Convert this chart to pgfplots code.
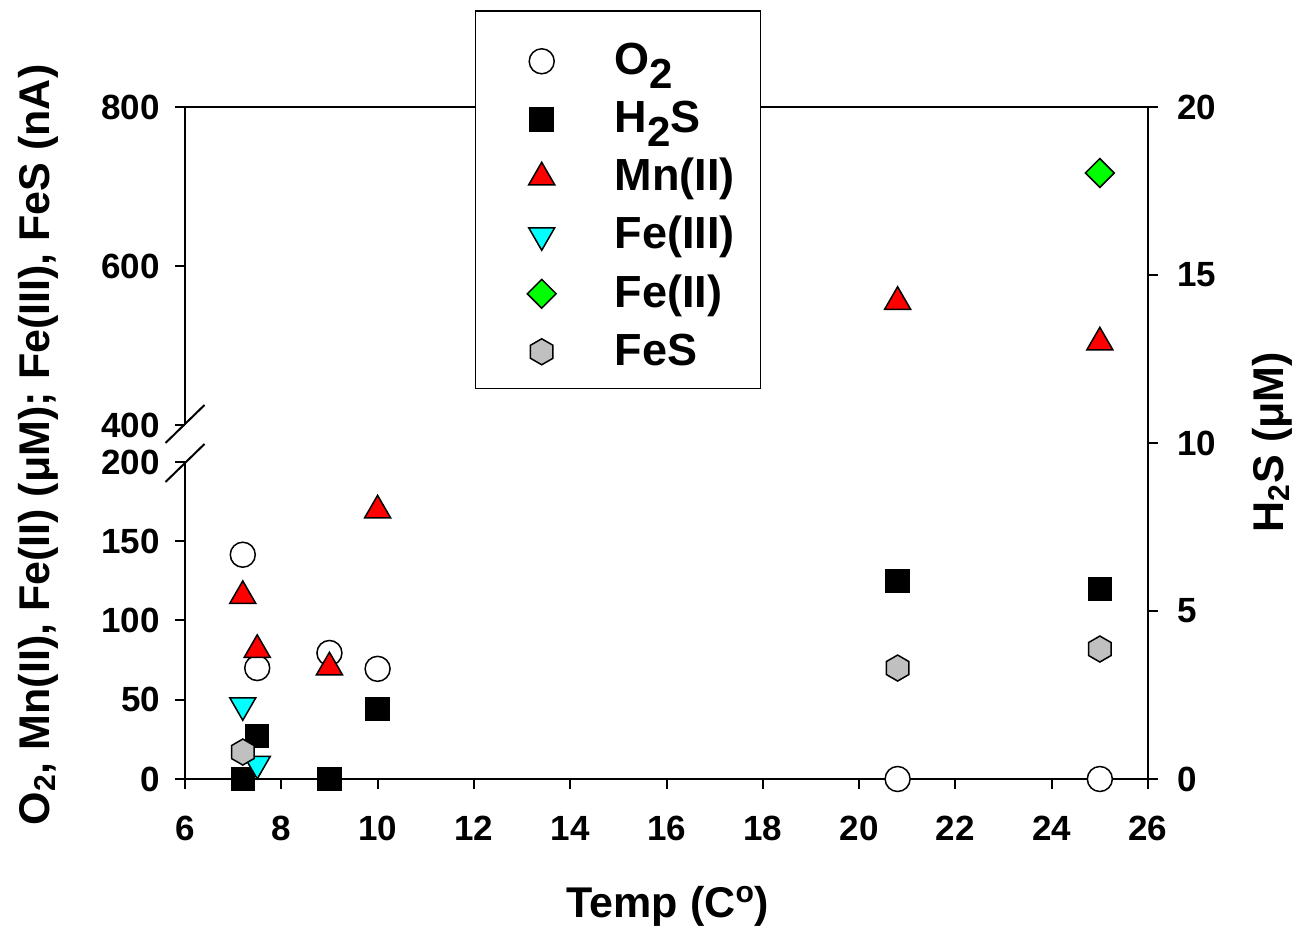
\documentclass[border=0pt]{standalone}
\usepackage{pgfplots}
\pgfplotsset{compat=1.18}
\usepackage{fontspec}
\setmainfont{Liberation Sans}
\definecolor{fesgray}{RGB}{192,192,192}
\definecolor{fecyan}{RGB}{0,255,255}
\definecolor{fegreen}{RGB}{0,255,0}
\definecolor{mnred}{RGB}{255,0,0}
\pgfdeclareplotmark{hexagon}{%
  \pgfpathmoveto{\pgfpointpolar{90}{\pgfplotmarksize}}%
  \pgfpathlineto{\pgfpointpolar{150}{\pgfplotmarksize}}%
  \pgfpathlineto{\pgfpointpolar{210}{\pgfplotmarksize}}%
  \pgfpathlineto{\pgfpointpolar{270}{\pgfplotmarksize}}%
  \pgfpathlineto{\pgfpointpolar{330}{\pgfplotmarksize}}%
  \pgfpathlineto{\pgfpointpolar{30}{\pgfplotmarksize}}%
  \pgfpathclose
  \pgfusepathqfillstroke}
\pgfplotsset{
  every axis/.append style={
    scale only axis, width=481.5pt, xmin=6, xmax=26,
    anchor=south west, clip=false,
    tick align=outside, major tick length=5pt,
    every tick/.style={black, line width=1pt},
    axis line style={-, line width=1pt},
    tick label style={font=\fontsize{17.5}{20}\selectfont\bfseries},
    /pgf/number format/assume math mode=true,
  },
  leg/.style={legend image code/.code={%
      \path[draw=none, fill=none] (0pt,-3.5pt) -- (30pt,-3.5pt);
      \draw[##1] plot coordinates {(20pt,-3.5pt)};}},
  o2/.style={only marks, mark=*, mark size=6.25pt, mark options={fill=white, draw=black, line width=0.75pt}, leg},
  h2s/.style={only marks, mark=square*, mark size=5.75pt, mark options={fill=black, draw=black, line width=0.75pt}, leg},
  mn/.style={only marks, mark=triangle*, mark size=7.5pt, mark options={fill=mnred, draw=black, line width=0.75pt}, leg},
  fe3/.style={only marks, mark=triangle*, mark size=7.5pt, mark options={rotate=180, fill=fecyan, draw=black, line width=0.75pt}, leg},
  fe2/.style={only marks, mark=square*, mark size=5.1pt, mark options={rotate=45, fill=fegreen, draw=black, line width=0.75pt}, leg},
  fes/.style={only marks, mark=hexagon, mark size=6.5pt, mark options={fill=fesgray, draw=black, line width=0.75pt}, leg},
}
\newcommand{\lsub}[1]{\raisebox{-7pt}{\fontsize{21}{22}\selectfont #1}}
\begin{document}
\begin{tikzpicture}
\useasboundingbox (0pt,0pt) rectangle (651.5pt,463.5pt);
% upper part of the broken left axis
\begin{axis}[at={(92.5pt,251pt)}, height=159pt, ymin=400, ymax=800,
  axis x line*=top, axis y line*=left, xtick=\empty, ytick={400,600,800},
  yticklabel style={xshift=-4pt}]
\addplot[mn] coordinates {(20.8,555) (25,504)};
\addplot[fe2] coordinates {(25,717)};
\end{axis}
% right axis: H2S
\begin{axis}[at={(92.5pt,74pt)}, height=336pt, ymin=0, ymax=20,
  axis y line*=right, axis x line=none, ytick={0,5,10,15,20},
  yticklabel style={xshift=6pt},
  legend cell align=left,
  legend style={at={(axis description cs:0.3011,1.1443)}, anchor=north west,
    draw=black, line width=0.75pt, fill=white,
    font=\fontsize{22.5}{26}\selectfont\bfseries,
    inner xsep=13pt, inner ysep=11pt, row sep=7.5pt, column sep=26.5pt,
    nodes={inner sep=0pt, text height=21pt, text depth=0.5pt}}]
\addlegendimage{o2}
\addlegendentry{O\lsub{2}}
\addplot[h2s] coordinates {(7.2,0) (7.5,1.28) (9,0) (10,2.08) (20.8,5.89) (25,5.65)};
\addlegendentry{H\lsub{2}S}
\addlegendimage{mn}
\addlegendentry{Mn(II)}
\addlegendimage{fe3}
\addlegendentry{Fe(III)}
\addlegendimage{fe2}
\addlegendentry{Fe(II)}
\addlegendimage{fes}
\addlegendentry{FeS}
\end{axis}
% lower part of the broken left axis
\begin{axis}[at={(92.5pt,74pt)}, height=158.5pt, ymin=0, ymax=200,
  axis x line*=bottom, axis y line*=left,
  xtick={6,8,10,12,14,16,18,20,22,24,26}, ytick={0,50,100,150,200},
  yticklabel style={xshift=-4pt}, xticklabel style={yshift=-10pt}]
\addplot[o2] coordinates {(7.2,141.5) (7.5,70) (9,79.5) (10,69.5) (20.8,0) (25,0)};
\addplot[mn] coordinates {(7.2,115.5) (7.5,81.5) (9,70.5) (10,169.5)};
\addplot[fe3] coordinates {(7.2,46.5) (7.5,9.5)};
\addplot[fes] coordinates {(7.2,17) (20.8,70) (25,82)};
\end{axis}
% break marks
\draw[line width=1pt] (82.75pt,242pt) -- (102.25pt,261pt);
\draw[line width=1pt] (82.75pt,222.5pt) -- (102.25pt,241.5pt);
% axis titles
\node[rotate=90, font=\fontsize{21.5}{24}\selectfont\bfseries] at (19pt,241pt)
  {O\textsubscript{2}, Mn(II), Fe(II) (μM); Fe(III), FeS (nA)};
\node[rotate=90, font=\fontsize{21.5}{24}\selectfont\bfseries] at (636pt,242.5pt)
  {H\textsubscript{2}S (μM)};
\node[font=\fontsize{21.5}{24}\selectfont\bfseries] at (334pt,10.5pt)
  {Temp (C\textsuperscript{o})};
\end{tikzpicture}
\end{document}
